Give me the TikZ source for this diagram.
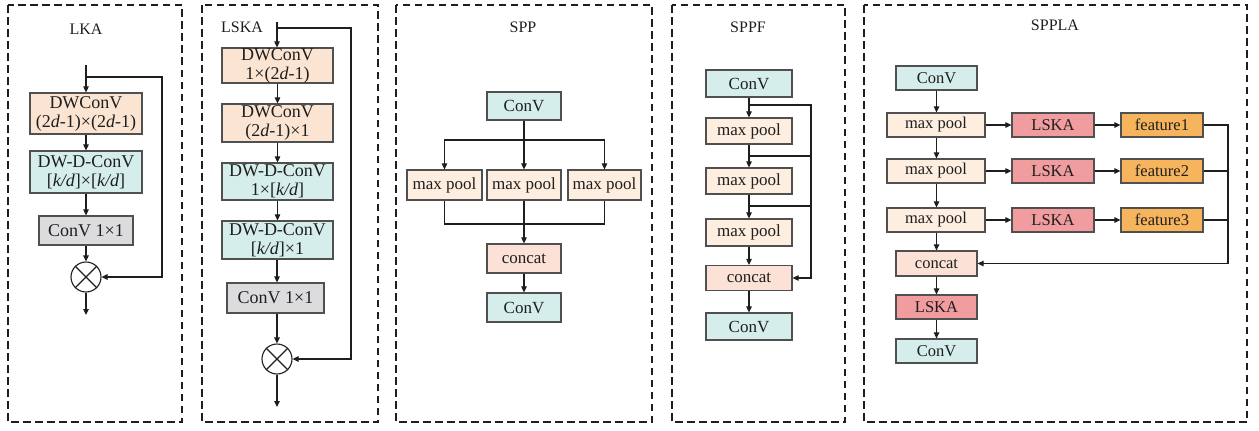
\documentclass[tikz,border=0pt]{standalone}
\usepackage{fontspec}
\setmainfont{Liberation Serif}
\usetikzlibrary{arrows.meta,calc}

\definecolor{peach}{HTML}{FBE5D2}
\definecolor{pool}{HTML}{FDEEDF}
\definecolor{teal}{HTML}{D5EEEB}
\definecolor{grayfill}{HTML}{DCDCDE}
\definecolor{salmon}{HTML}{FBE1D6}
\definecolor{lskared}{HTML}{F19C9F}
\definecolor{featorange}{HTML}{F6B55C}
\definecolor{edge}{HTML}{505050}
\definecolor{ink}{HTML}{1E1E1E}

\tikzset{
  panel/.style={draw=ink, line width=2pt, dash pattern=on 7.5pt off 4.5pt},
  blk/.style={draw=edge, line width=1.2pt, inner sep=0pt, align=center,
    text=ink, font=\fontsize{17}{19}\selectfont},
  tblk/.style={blk, font=\fontsize{18}{19}\selectfont},
  sblk/.style={blk, font=\fontsize{16.5}{18}\selectfont},
  ttl/.style={text=ink, font=\fontsize{16}{17}\selectfont},
  wire/.style={draw=ink, line width=1.1pt},
  arr/.style={wire, -{Triangle[length=6pt,width=5.5pt]}},
  mult/.style={circle, draw=ink, line width=1.1pt, minimum size=30pt, inner sep=0pt},
}

\begin{document}
\begin{tikzpicture}[x=1pt, y=-1pt]
\useasboundingbox (0,0) rectangle (1259,431);

% ---------- panel frames ----------
\draw[panel] (8,5) rectangle (182,422);
\draw[panel] (202,5) rectangle (378,422);
\draw[panel] (396,5) rectangle (652,422);
\draw[panel] (672,5) rectangle (845,422);
\draw[panel] (864,5) rectangle (1247,422);

% ---------- LKA ----------
\node[ttl] (tLKA) at (86,29) {LKA};
\node[tblk, fill=peach, minimum width=112pt, minimum height=41pt] (k1) at (86,113.5)
  {DWConV\\(2\textit{d}-1)×(2\textit{d}-1)};
\node[tblk, fill=teal, minimum width=112pt, minimum height=42pt] (k2) at (86,172)
  {DW-D-ConV\\{[}\textit{k/d}]×[\textit{k/d}]};
\node[tblk, fill=grayfill, minimum width=94pt, minimum height=29pt] (k3) at (86,230.5)
  {ConV 1×1};
\node[mult] (kx) at (86,277) {};
\draw[wire] (kx.north west) -- (kx.south east) (kx.north east) -- (kx.south west);
\coordinate (kin) at (86,65);
\coordinate (ksplit) at (86,77);
\coordinate (kloop) at (162,77);
\coordinate (kout) at (86,315);
\draw[arr] (kin) -- (k1);
\draw[arr] (k1) -- (k2);
\draw[arr] (k2) -- (k3);
\draw[arr] (k3) -- (kx);
\draw[arr] (kx) -- (kout);
\draw[arr] (ksplit) -- (kloop) |- (kx.east);

% ---------- LSKA ----------
\node[ttl] (tLSKA) at (242,27) {LSKA};
\node[tblk, fill=peach, minimum width=111pt, minimum height=35pt] (s1) at (277.5,65.5)
  {DWConV\\1×(2\textit{d}-1)};
\node[tblk, fill=peach, minimum width=111pt, minimum height=38pt] (s2) at (277.5,123)
  {DWConV\\(2\textit{d}-1)×1};
\node[tblk, fill=teal, minimum width=111pt, minimum height=37pt] (s3) at (277.5,181.5)
  {DW-D-ConV\\1×[\textit{k/d}]};
\node[tblk, fill=teal, minimum width=111pt, minimum height=38pt] (s4) at (277.5,240)
  {DW-D-ConV\\{[}\textit{k/d}]×1};
\node[tblk, fill=grayfill, minimum width=97pt, minimum height=30pt] (s5) at (275.5,298)
  {ConV 1×1};
\node[mult] (sx) at (277,359) {};
\draw[wire] (sx.north west) -- (sx.south east) (sx.north east) -- (sx.south west);
\coordinate (sin) at (277,22);
\coordinate (ssplit) at (277,28);
\coordinate (sloop) at (351,28);
\coordinate (sout) at (277,407);
\draw[arr] (sin) -- (sin |- s1.north);
\draw[arr] (s1) -- (s2);
\draw[arr] (s2) -- (s3);
\draw[arr] (s3) -- (s4);
\draw[arr] (s4.south -| sx) -- (s5.north -| sx);
\draw[arr] (s5.south -| sx) -- (sx);
\draw[arr] (sx) -- (sout);
\draw[arr] (ssplit) -- (sloop) |- (sx.east);

% ---------- SPP ----------
\node[ttl] (tSPP) at (523,27) {SPP};
\node[blk, fill=teal, minimum width=74pt, minimum height=28pt] (p0) at (524,106) {ConV};
\node[blk, fill=pool, minimum width=75pt, minimum height=30pt] (p1) at (444.5,185) {max pool};
\node[blk, fill=pool, minimum width=74pt, minimum height=30pt] (p2) at (524,185) {max pool};
\node[blk, fill=pool, minimum width=73pt, minimum height=30pt] (p3) at (604.5,185) {max pool};
\node[blk, fill=salmon, minimum width=74pt, minimum height=29pt] (pc) at (524,258.5) {concat};
\node[blk, fill=teal, minimum width=74pt, minimum height=29pt] (p4) at (524,307.5) {ConV};
\coordinate (pfork) at (524,140);
\coordinate (pjoin) at (524,224);
\draw[arr] (p0) -- (p2);
\draw[arr] (pfork) -| (p1.north);
\draw[arr] (pfork) -| (p3.north);
\draw[wire] (p1.south) |- (pjoin) -| (p3.south);
\draw[arr] (p2) -- (pc);
\draw[arr] (pc) -- (p4);

% ---------- SPPF ----------
\node[ttl] (tSPPF) at (748,27) {SPPF};
\node[blk, fill=teal, minimum width=86pt, minimum height=27pt] (f0) at (749,83.5) {ConV};
\node[blk, fill=pool, minimum width=86pt, minimum height=26pt] (f1) at (749,131) {max pool};
\node[blk, fill=pool, minimum width=86pt, minimum height=26pt] (f2) at (749,181) {max pool};
\node[blk, fill=pool, minimum width=86pt, minimum height=27pt] (f3) at (749,232.5) {max pool};
\node[blk, fill=salmon, minimum width=86pt, minimum height=25pt] (fc) at (749,278) {concat};
\node[blk, fill=teal, minimum width=86pt, minimum height=27pt] (f4) at (749,326.5) {ConV};
\coordinate (fa) at (749,105);
\coordinate (fb) at (749,156);
\coordinate (fcc) at (749,206);
\coordinate (fbus) at (811,105);
\draw[arr] (f0) -- (f1);
\draw[arr] (f1) -- (f2);
\draw[arr] (f2) -- (f3);
\draw[arr] (f3) -- (fc);
\draw[arr] (fc) -- (f4);
\draw[arr] (fa) -- (fbus) |- (fc.east);
\draw[wire] (fb) -- (fb -| fbus);
\draw[wire] (fcc) -- (fcc -| fbus);

% ---------- SPPLA ----------
\node[ttl] (tSPPLA) at (1055,25) {SPPLA};
\node[sblk, fill=teal, minimum width=81pt, minimum height=24pt] (a0) at (936.5,78) {ConV};
\node[sblk, fill=pool, minimum width=98pt, minimum height=24pt] (a1) at (936,125) {max pool};
\node[sblk, fill=pool, minimum width=98pt, minimum height=24pt] (a2) at (936,171) {max pool};
\node[sblk, fill=pool, minimum width=98pt, minimum height=24pt] (a3) at (936,220) {max pool};
\node[sblk, fill=salmon, minimum width=81pt, minimum height=25pt] (ac) at (936.5,263.5) {concat};
\node[sblk, fill=lskared, minimum width=81pt, minimum height=24pt] (al) at (936.5,307) {LSKA};
\node[sblk, fill=teal, minimum width=81pt, minimum height=24pt] (a4) at (936.5,351) {ConV};
\node[sblk, fill=lskared, minimum width=82pt, minimum height=24pt] (l1) at (1053,125) {LSKA};
\node[sblk, fill=lskared, minimum width=82pt, minimum height=24pt] (l2) at (1053,171) {LSKA};
\node[sblk, fill=lskared, minimum width=82pt, minimum height=24pt] (l3) at (1053,220) {LSKA};
\node[sblk, fill=featorange, minimum width=82pt, minimum height=24pt] (g1) at (1162,125) {feature1};
\node[sblk, fill=featorange, minimum width=82pt, minimum height=24pt] (g2) at (1162,171) {feature2};
\node[sblk, fill=featorange, minimum width=82pt, minimum height=24pt] (g3) at (1162,220) {feature3};
\coordinate (abus) at (1228,125);
\draw[arr] (a0.south -| ac) -- (a1.north -| ac);
\draw[arr] (a1.south -| ac) -- (a2.north -| ac);
\draw[arr] (a2.south -| ac) -- (a3.north -| ac);
\draw[arr] (a3.south -| ac) -- (ac);
\draw[arr] (ac) -- (al);
\draw[arr] (al) -- (a4);
\draw[arr] (a1) -- (l1);
\draw[arr] (a2) -- (l2);
\draw[arr] (a3) -- (l3);
\draw[arr] (l1) -- (g1);
\draw[arr] (l2) -- (g2);
\draw[arr] (l3) -- (g3);
\draw[arr] (g1.east) -- (abus) |- (ac.east);
\draw[wire] (g2.east) -- (g2.east -| abus);
\draw[wire] (g3.east) -- (g3.east -| abus);
\end{tikzpicture}
\end{document}
